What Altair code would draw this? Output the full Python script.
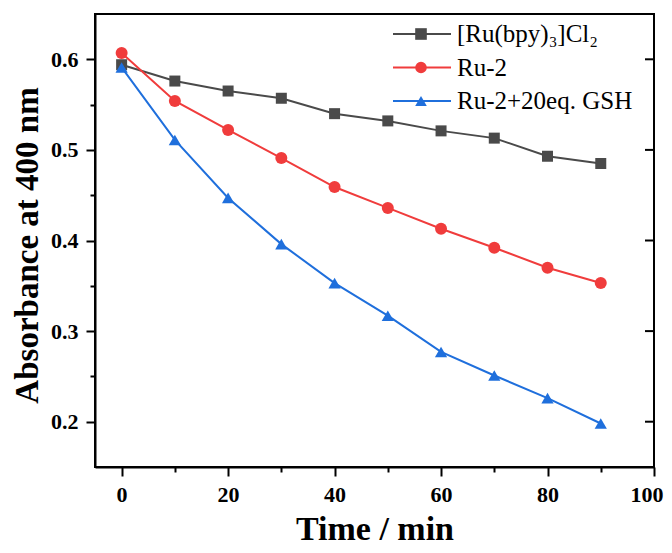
import altair as alt
import pandas as pd

times = [0, 10, 20, 30, 40, 50, 60, 70, 80, 90]
ru_bpy = [0.594, 0.576, 0.565, 0.557, 0.540, 0.532, 0.521, 0.513, 0.493, 0.485]
ru2 = [0.607, 0.554, 0.522, 0.491, 0.459, 0.436, 0.413, 0.392, 0.370, 0.353]
ru2_gsh = [0.591, 0.511, 0.447, 0.396, 0.353, 0.317, 0.277, 0.251, 0.226, 0.198]

names = ["[Ru(bpy)\u2083]Cl\u2082", "Ru-2", "Ru-2+20eq. GSH"]
colors = ["#4a4a4a", "#f03c3c", "#1f6fdc"]
shapes = ["square", "circle", "triangle-up"]
marker_sizes = [121, 144, 150]
x_ticks = [0, 10, 20, 30, 40, 50, 60, 70, 80, 90, 100]
y_ticks = [0.2, 0.25, 0.3, 0.35, 0.4, 0.45, 0.5, 0.55, 0.6]
y_major = [0.2, 0.3, 0.4, 0.5, 0.6]

rows = []
for name, vals in zip(names, [ru_bpy, ru2, ru2_gsh]):
    for t, v in zip(times, vals):
        rows.append({"time": t, "abs": v, "series": name})
df = pd.DataFrame(rows)
df_right = pd.DataFrame({"abs": y_major})
df_leg = pd.DataFrame({"series": names})

FONT = "Liberation Serif"
W, H = 559, 453

color_scale = alt.Scale(domain=names, range=colors)
y_scale = alt.Scale(domain=[0.15, 0.65], nice=False, zero=False)
is_major_y = "abs(datum.value*10 - round(datum.value*10)) < 0.001"

x_enc = alt.X(
    "time:Q",
    scale=alt.Scale(domain=[-5, 100], nice=False, zero=False),
    axis=alt.Axis(
        title="Time / min",
        values=x_ticks,
        labelExpr="datum.value % 20 === 0 ? datum.label : ''",
        tickSize={"condition": {"test": "datum.value % 20 === 0", "value": 9}, "value": 5},
        labelFlush=True,
        labelFlushOffset=9,
        labelOverlap=False,
        grid=False,
        labelFont=FONT,
        labelFontSize=22,
        labelFontWeight="bold",
        labelPadding=8,
        titleFont=FONT,
        titleFontSize=34,
        titleFontWeight="bold",
        titlePadding=7,
        tickWidth=2,
        tickColor="black",
        domainColor="black",
        domainWidth=2,
        labelColor="black",
        titleColor="black",
    ),
)

y_enc = alt.Y(
    "abs:Q",
    scale=y_scale,
    axis=alt.Axis(
        title="Absorbance at 400 nm",
        values=y_ticks,
        format=".1f",
        labelExpr=is_major_y + " ? datum.label : ''",
        tickSize={"condition": {"test": is_major_y, "value": 9}, "value": 5},
        labelFlush=False,
        labelOverlap=False,
        grid=False,
        labelFont=FONT,
        labelFontSize=22,
        labelFontWeight="bold",
        labelPadding=8,
        titleFont=FONT,
        titleFontSize=33,
        titleFontWeight="bold",
        titlePadding=6,
        titleY=231,
        tickWidth=2,
        tickColor="black",
        domainColor="black",
        domainWidth=2,
        labelColor="black",
        titleColor="black",
    ),
)

base = alt.Chart(df)

lines = base.mark_line(strokeWidth=2).encode(
    x=x_enc,
    y=y_enc,
    color=alt.Color("series:N", scale=color_scale, legend=None),
    detail="series:N",
)

point_layers = []
for name, shp, sz in zip(names, shapes, marker_sizes):
    point_layers.append(
        base.transform_filter(alt.datum.series == name)
        .mark_point(shape=shp, filled=True, size=sz, opacity=1)
        .encode(
            x="time:Q",
            y=alt.Y("abs:Q", scale=y_scale),
            color=alt.Color("series:N", scale=color_scale, legend=None),
        )
    )

right_ticks = (
    alt.Chart(df_right)
    .mark_rule(color="black", strokeWidth=2)
    .encode(y=alt.Y("abs:Q", scale=y_scale), x=alt.value(W - 9), x2=alt.value(W))
)

main = alt.layer(lines, *point_layers, right_ticks)

leg_y = alt.Y(
    "series:N",
    scale=alt.Scale(type="point", domain=names, range=[20, 87], padding=0),
    axis=None,
)
leg_color = alt.Color("series:N", scale=color_scale, legend=None)

leg_lines = alt.Chart(df_leg).mark_rule(strokeWidth=2).encode(
    x=alt.value(298), x2=alt.value(356), y=leg_y, color=leg_color
)
leg_points = alt.Chart(df_leg).mark_point(filled=True, opacity=1, size=135).encode(
    x=alt.value(326),
    y=leg_y,
    color=leg_color,
    shape=alt.Shape("series:N", scale=alt.Scale(domain=names, range=shapes), legend=None),
)
leg_text = alt.Chart(df_leg).mark_text(
    align="left", baseline="middle", font=FONT, fontSize=25, color="black"
).encode(x=alt.value(362), y=leg_y, text="series:N")

legend = alt.layer(leg_lines, leg_points, leg_text)

chart = (
    alt.layer(main, legend)
    .resolve_scale(y="independent")
    .properties(
        width=W,
        height=H,
        autosize=alt.AutoSizeParams(type="none"),
        padding={"left": 87, "top": 6, "right": 10, "bottom": 78},
        background="white",
    )
    .configure_view(stroke="black", strokeWidth=2)
)

chart.save("out.html", embed_options={"renderer": "svg", "actions": False})
